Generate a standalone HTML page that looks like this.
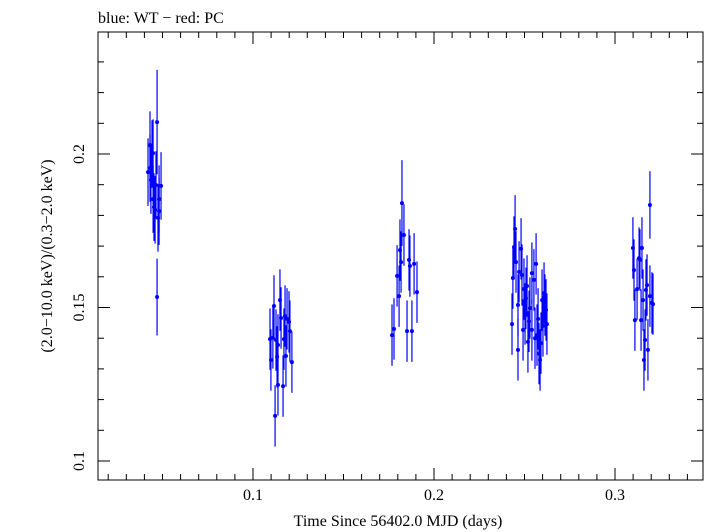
<!DOCTYPE html>
<html><head><meta charset="utf-8"><style>
body{margin:0;background:#fff;}
svg{display:block;font-family:"Liberation Serif",serif;}
</style></head><body>
<svg id="chart" width="705" height="532" viewBox="0 0 705 532" xmlns="http://www.w3.org/2000/svg">
<text x="98" y="23" font-size="16" fill="#000">blue: WT − red: PC</text>
<rect x="98" y="32" width="605" height="448" fill="none" stroke="#000" stroke-width="1"/>
<g id="ticks"></g>
<g id="marks"></g>
<text x="398" y="526" font-size="16" text-anchor="middle">Time Since 56402.0 MJD (days)</text>
<text transform="translate(52,256) rotate(-90)" font-size="16" text-anchor="middle">(2.0−10.0 keV)/(0.3−2.0 keV)</text>
</svg>
<script>
const xTicks=[0.1,0.2,0.3];
const yTicks=[0.1,0.15,0.2];
const tVals=[.0420,.0431,.0442,.0448,.0470,.0459,.0448,.0453,.0475,.0470,.0481,.0492,.0481,.0431,.0436,.0464,
.1094,.1110,.1116,.1127,.1133,.1138,.1155,.1171,.1177,.1188,.1199,.1204,.1215,.1182,.1138,.1166,.1122,.1149,.1099,
.1768,.1779,.1796,.1807,.1818,.1834,.1823,.1851,.1862,.1867,.1890,.1906,.1878,.1812,
.2431,.2436,.2442,.2448,.2453,.2464,.2470,.2486,.2481,.2497,.2503,.2514,.2519,.2530,.2541,.2552,.2564,.2575,.2591,.2597,.2608,.2619,.2624,.2586,.2541,.2569,.2613,.2492,.2464,.2508,.2525,.2558,.2580,.2602,
.3099,.3105,.3110,.3122,.3133,.3138,.3144,.3155,.3166,.3177,.3182,.3193,.3193,.3204,.3210,.3160,.3171,.3149];
const ratioVals=[.1941,.2029,.2000,.2003,.2104,.1818,.1853,.1827,.1792,.1534,.1853,.1896,.1814,.1954,.1915,.1899,
.1397,.1401,.1505,.1394,.1339,.1378,.1466,.1397,.1472,.1463,.1453,.1423,.1322,.1342,.1248,.1244,.1147,.1524,.1329,
.1410,.1430,.1603,.1537,.1648,.1736,.1840,.1423,.1655,.1635,.1642,.1550,.1423,.1687,
.1446,.1596,.1697,.1756,.1648,.1508,.1616,.1606,.1691,.1560,.1479,.1570,.1388,.1498,.1612,.1590,.1642,.1463,.1384,.1524,.1547,.1492,.1446,.1329,.1427,.1410,.1508,.1427,.1362,.1530,.1455,.1400,.1350,.1440,
.1694,.1622,.1459,.1560,.1661,.1655,.1459,.1524,.1394,.1573,.1362,.1537,.1834,.1515,.1511,.1329,.1557,.1694];
const errVals=[.011,.011,.011,.011,.017,.011,.011,.011,.011,.0125,.011,.011,.011,.011,.011,.011,
.010,.010,.010,.010,.010,.010,.010,.010,.010,.010,.010,.010,.010,.010,.010,.010,.010,.010,.010,
.010,.010,.010,.010,.010,.010,.014,.010,.010,.010,.010,.010,.010,.010,
.010,.010,.010,.011,.010,.010,.010,.010,.010,.010,.010,.010,.010,.010,.010,.010,.010,.010,.010,.010,.010,.010,.010,.010,.010,.010,.010,.010,.010,.010,.010,.010,.010,.010,
.010,.010,.010,.010,.010,.010,.010,.010,.010,.010,.010,.010,.011,.010,.010,.010,.010,.010];
const NS="http://www.w3.org/2000/svg";
const X=t=>253+(t-0.1)*1810;
const Y=v=>154-(v-0.2)*3070;
const L=98,R=703,T=32,B=480;
function mk(tag,attrs,parent){const e=document.createElementNS(NS,tag);for(const k in attrs)e.setAttribute(k,attrs[k]);parent.appendChild(e);return e;}
const tg=document.getElementById('ticks');
for(let i=1;i<=34;i++){const t=i*0.01;const x=X(t);if(x<L||x>R)continue;const major=i%10===0;const len=major?12:6;
 mk('line',{x1:x,y1:B,x2:x,y2:B-len,stroke:'#000'},tg);mk('line',{x1:x,y1:T,x2:x,y2:T+len,stroke:'#000'},tg);}
for(let i=9;i<=24;i++){const v=i*0.01;const y=Y(v);if(y<T||y>B)continue;const major=(i%5===0);const len=major?12:6;
 mk('line',{x1:L,y1:y,x2:L+len,y2:y,stroke:'#000'},tg);mk('line',{x1:R,y1:y,x2:R-len,y2:y,stroke:'#000'},tg);}
xTicks.forEach(t=>{const e=mk('text',{x:X(t),y:500,'font-size':16,'text-anchor':'middle'},tg);e.textContent=String(t);

});
yTicks.forEach(v=>{const e=mk('text',{transform:`translate(84,${Y(v)}) rotate(-90)`,'font-size':16,'text-anchor':'middle'},tg);e.textContent=String(v);

});
const mg=document.getElementById('marks');
tVals.forEach((t,i)=>{const x=X(t),y=Y(ratioVals[i]),e=errVals[i];
 const l=mk('line',{x1:x,y1:Y(ratioVals[i]+e),x2:x,y2:Y(ratioVals[i]-e),stroke:'#0000ff','stroke-width':1.2},mg);
 
 
 const c=mk('circle',{cx:x,cy:y,r:2,fill:'#0000ff'},mg);
 
 
});
</script>
</body></html>
